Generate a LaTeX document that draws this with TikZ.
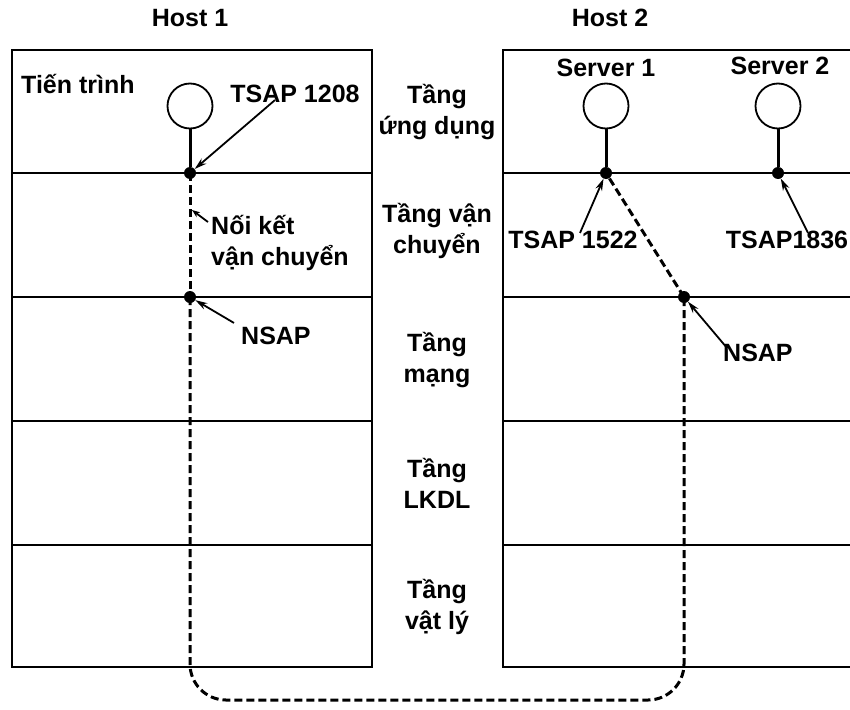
\documentclass[tikz,border=0pt]{standalone}
\usepackage{fontspec}
\setmainfont{Liberation Sans}
\usetikzlibrary{positioning,arrows.meta}
\definecolor{cInk}{HTML}{000000}
\newcommand{\lblfont}{\fontsize{25}{31}\selectfont\bfseries}
\tikzset{
  hostFrame/.style={draw=cInk, line width=2.2pt},
  layerSep/.style={draw=cInk, line width=2pt},
  hostTitle/.style={font=\lblfont, inner sep=1pt},
  lbl/.style={font=\lblfont, inner sep=1pt},
  layerLbl/.style={font=\lblfont, align=center, inner sep=1pt},
  proc/.style={draw=cInk, circle, line width=1.8pt, minimum size=45pt, inner sep=0pt},
  sap/.style={fill=cInk, circle, minimum size=12pt, inner sep=0pt},
  stem/.style={draw=cInk, line width=3pt},
  conn/.style={draw=cInk, line width=3pt, dash pattern=on 8pt off 4pt},
  ptr/.style={-{Stealth[length=12pt, width=7pt]}, line width=1.8pt, draw=cInk},
}
\begin{document}
\begin{tikzpicture}[x=1pt, y=-1pt]
\useasboundingbox (0,0) rectangle (850,709);

% ========== HOST 1 ==========
\node[hostTitle] (host1) at (190,18) {Host 1};
\draw[hostFrame] (12,50) rectangle (372,667);
\foreach \y in {173,297,421,545}
  \draw[layerSep] (12,\y) -- (372,\y);

% ========== HOST 2 ==========
\node[hostTitle] (host2) at (610,18) {Host 2};
\draw[hostFrame] (850,50) -- (503,50) -- (503,667) -- (850,667);
\foreach \y in {173,297,421,545}
  \draw[layerSep] (503,\y) -- (850,\y);

% layer names between the hosts
\foreach \y/\txt [count=\i] in {112/{Tầng\\ứng dụng}, 231/{Tầng vận\\chuyển},
                               360/{Tầng\\mạng}, 483/{Tầng\\LKDL}, 607/{Tầng\\vật lý}}
  \node[layerLbl] (layer\i) at (437,\y) {\txt};

% processes and access points
\node[proc] (proc) at (190,106) {};
\node[sap] (tsapA) at (190,173) {};
\node[sap] (nsapA) at (190,297) {};
\draw[stem] (proc) -- (tsapA);

\node[proc] (srv1) at (606,106) {};
\node[proc] (srv2) at (778,106) {};
\node[sap] (tsapB) at (606,173) {};
\node[sap] (tsapC) at (778,173) {};
\node[sap] (nsapB) at (684,297) {};
\draw[stem] (srv1) -- (tsapB);
\draw[stem] (srv2) -- (tsapC);

% transport connection
\coordinate (loop) at (0,700);
\draw[conn] (tsapA.center) -- (nsapA.center);
\draw[conn, rounded corners=36pt] (nsapA.center) -- (nsapA |- loop)
  -- (nsapB |- loop) -- (nsapB.center);
\draw[conn] (nsapB.center) -- (tsapB.center);

% labels
\node[lbl, anchor=west] (procLbl) at (20,84) {Tiến trình};
\node[lbl] (tsapALbl) at (295,94) {TSAP 1208};
\draw[ptr] ([xshift=-20pt, yshift=4pt]tsapALbl.south) -- (tsapA);

\node[lbl, anchor=west, align=left] (linkLbl) at (210,243) {Nối kết\\vận chuyển};
\coordinate (onLink) at (192,210);
\draw[ptr, -{Stealth[length=8pt, width=6pt]}] (208,222) -- (onLink);

\node[lbl, anchor=west] (nsapALbl) at (240,336) {NSAP};
\draw[ptr] ([xshift=-6pt, yshift=3pt]nsapALbl.north west) -- (nsapA);

\node[lbl] (srv1Lbl) at (606,68) {Server 1};
\node[lbl] (srv2Lbl) at (780,66) {Server 2};
\node[lbl] (tsapBLbl) at (573,240) {TSAP 1522};
\draw[ptr] ([xshift=7pt, yshift=-3pt]tsapBLbl.north) -- (tsapB);
\node[lbl] (tsapCLbl) at (787,240) {TSAP1836};
\draw[ptr] ([xshift=21pt, yshift=-3pt]tsapCLbl.north) -- (tsapC);

\node[lbl, anchor=west] (nsapBLbl) at (722,353) {NSAP};
\draw[ptr] ([xshift=5pt, yshift=-5pt]nsapBLbl.north west) -- (nsapB);

\end{tikzpicture}
\end{document}
